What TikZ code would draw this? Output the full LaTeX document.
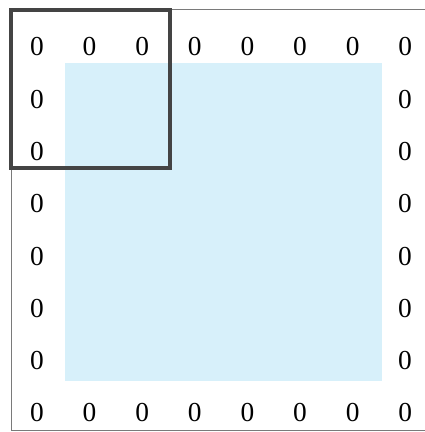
\documentclass[tikz,border=0pt]{standalone}
\usepackage{fontspec}
\setmainfont{Liberation Serif}
\usetikzlibrary{positioning}
\definecolor{paleblue}{HTML}{D7F0FA}
\definecolor{boxgray}{HTML}{444444}
\definecolor{framegray}{HTML}{7A7A7A}

\begin{document}
\begin{tikzpicture}[x=0.025cm, y=-0.025cm, font=\fontsize{19.5}{19.5}\selectfont]
\useasboundingbox (0,0) rectangle (425,432);
\draw[draw=framegray, thin] (440,9) -- (11,9) -- (11,430) -- (440,430);
\fill[paleblue] (65,63) rectangle (382,381);

% zero padding round the border
\foreach \c in {0,...,7} {
  \node (top-\c) at (37+52.6*\c,47) {0};
  \node (bot-\c) at (37+52.6*\c,413) {0};
}
\foreach \r in {1,...,6} {
  \node (left-\r) at (37,47+52.3*\r) {0};
  \node (right-\r) at (405,47+52.3*\r) {0};
}

\draw[draw=boxgray, line width=2.2pt] (11,10) rectangle (170,168);
\end{tikzpicture}
\end{document}
